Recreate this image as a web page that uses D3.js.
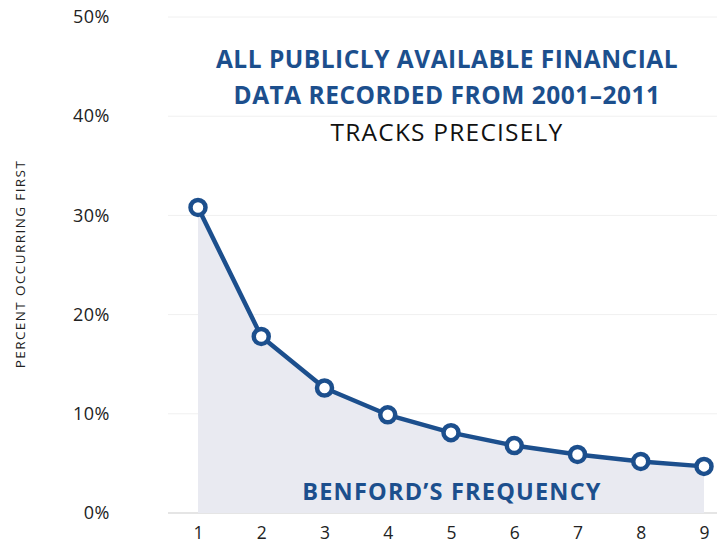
<!DOCTYPE html>
<html>
<head>
<meta charset="utf-8">
<script src="https://cdn.jsdelivr.net/npm/d3@7"></script>
<style>
  body { margin: 0; background: #fff; }
  svg { display: block; font-family: 'Open Sans', Lato, sans-serif; }
  .tick text { fill: #222; }
</style>
</head>
<body>
<svg width="717" height="545"></svg>
<script>
const digits = [1, 2, 3, 4, 5, 6, 7, 8, 9];
const percents = [30.8, 17.8, 12.6, 9.9, 8.1, 6.8, 5.9, 5.2, 4.7];
const yTicks = [0, 10, 20, 30, 40, 50];
const titleLines = ['ALL PUBLICLY AVAILABLE FINANCIAL', 'DATA RECORDED FROM 2001\u20132011'];

const svg = d3.select('svg');
const blue = '#1c4f8d';

const x = d3.scaleLinear().domain([1, 9]).range([198, 704]);
const y = d3.scaleLinear().domain([0, 50]).range([513, 17]);

const data = digits.map((d, i) => ({ digit: d, value: percents[i] }));

// grid
svg.append('g')
  .selectAll('line')
  .data(yTicks)
  .join('line')
  .attr('x1', 168)
  .attr('x2', 717)
  .attr('y1', d => y(d))
  .attr('y2', d => y(d))
  .attr('stroke', d => (d === 0 ? '#dcdcdc' : '#f0f0f0'))
  .attr('stroke-width', d => (d === 0 ? 1.5 : 1));

// area under the curve
const area = d3.area()
  .x(d => x(d.digit))
  .y0(y(0))
  .y1(d => y(d.value));

svg.append('path')
  .datum(data)
  .attr('fill', '#e9eaf1')
  .attr('d', area);

// y axis labels
const yAxis = svg.append('g')
  .attr('transform', 'translate(110,0)')
  .call(d3.axisLeft(y).tickValues(yTicks).tickFormat(d => `${d}%`).tickSize(0).tickPadding(0));
yAxis.select('.domain').remove();
yAxis.selectAll('text')
  .attr('font-size', 18)
  .attr('letter-spacing', 0.5)
  .attr('font-family', "'Open Sans', sans-serif");

// x axis labels
const xAxis = svg.append('g')
  .attr('transform', 'translate(0,527)')
  .call(d3.axisBottom(x).tickValues(digits).tickFormat(d3.format('d')).tickSize(0).tickPadding(0));
xAxis.select('.domain').remove();
xAxis.selectAll('text')
  .attr('font-size', 17.5)
  .attr('font-family', "'Open Sans', sans-serif");

// y label
svg.append('text')
  .attr('transform', 'translate(25,264) rotate(-90)')
  .attr('text-anchor', 'middle')
  .attr('font-size', 13.5)
  .attr('letter-spacing', 1.4)
  .attr('fill', '#222')
  .text('PERCENT OCCURRING FIRST');

// line
const line = d3.line()
  .x(d => x(d.digit))
  .y(d => y(d.value));

svg.append('path')
  .datum(data)
  .attr('fill', 'none')
  .attr('stroke', blue)
  .attr('stroke-width', 4.5)
  .attr('stroke-linejoin', 'round')
  .attr('d', line);

svg.append('g')
  .selectAll('circle')
  .data(data)
  .join('circle')
  .attr('cx', d => x(d.digit))
  .attr('cy', d => y(d.value))
  .attr('r', 7.5)
  .attr('fill', '#fff')
  .attr('stroke', blue)
  .attr('stroke-width', 4.5);

// titles
svg.append('g')
  .selectAll('text')
  .data(titleLines)
  .join('text')
  .attr('x', 447)
  .attr('y', (d, i) => 68 + i * 36)
  .attr('text-anchor', 'middle')
  .attr('font-size', 24.5)
  .attr('letter-spacing', 0.5)
  .attr('font-weight', 'bold')
  .attr('fill', blue)
  .text(d => d);

svg.append('text')
  .attr('x', 447)
  .attr('y', 141)
  .attr('text-anchor', 'middle')
  .attr('font-size', 24.5)
  .attr('letter-spacing', 1.2)
  .attr('fill', '#111')
  .text('TRACKS PRECISELY');

svg.append('text')
  .attr('x', 452)
  .attr('y', 500)
  .attr('text-anchor', 'middle')
  .attr('font-size', 23.5)
  .attr('letter-spacing', 1.2)
  .attr('font-weight', 'bold')
  .attr('fill', blue)
  .text('BENFORD\u2019S FREQUENCY');
</script>
</body>
</html>
